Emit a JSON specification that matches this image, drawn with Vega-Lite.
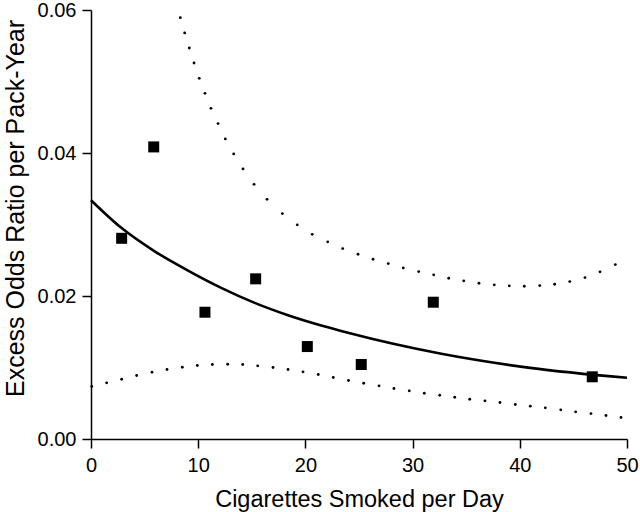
{
  "$schema": "https://vega.github.io/schema/vega-lite/v6.json",
  "autosize": "none",
  "width": 536,
  "height": 429,
  "padding": {"left": 91, "top": 10, "right": 13, "bottom": 73},
  "background": "white",
  "config": {
    "view": {"stroke": null},
    "font": "Liberation Sans",
    "axis": {
      "grid": false,
      "domainColor": "black",
      "domainWidth": 1.5,
      "tickColor": "black",
      "tickWidth": 1.5,
      "tickSize": 9,
      "labelColor": "black",
      "labelFont": "Liberation Sans",
      "labelFontSize": 20,
      "labelFlush": false,
      "labelOverlap": false,
      "titleColor": "black",
      "titleFont": "Liberation Sans",
      "titleFontWeight": "normal"
    }
  },
  "data": {
    "values": [
      {"series": "obs", "x": 2.86, "y": 0.02807},
      {"series": "obs", "x": 5.85, "y": 0.04085},
      {"series": "obs", "x": 10.63, "y": 0.01773},
      {"series": "obs", "x": 15.36, "y": 0.0224},
      {"series": "obs", "x": 20.18, "y": 0.01293},
      {"series": "obs", "x": 25.21, "y": 0.01042},
      {"series": "obs", "x": 31.93, "y": 0.01913},
      {"series": "obs", "x": 46.76, "y": 0.0087},

      {"series": "fit", "x": 0, "y": 0.0334},
      {"series": "fit", "x": 2.83, "y": 0.02953},
      {"series": "fit", "x": 5.94, "y": 0.02625},
      {"series": "fit", "x": 9.05, "y": 0.02356},
      {"series": "fit", "x": 12.15, "y": 0.02114},
      {"series": "fit", "x": 15.27, "y": 0.01904},
      {"series": "fit", "x": 18.38, "y": 0.01731},
      {"series": "fit", "x": 21.48, "y": 0.01587},
      {"series": "fit", "x": 23.97, "y": 0.01485},
      {"series": "fit", "x": 32.56, "y": 0.01195},
      {"series": "fit", "x": 40.95, "y": 0.00995},
      {"series": "fit", "x": 50, "y": 0.00856},

      {"series": "upper", "x": 8.33, "y": 0.05893},
      {"series": "upper", "x": 8.74, "y": 0.05679},
      {"series": "upper", "x": 9.17, "y": 0.05469},
      {"series": "upper", "x": 9.61, "y": 0.05259},
      {"series": "upper", "x": 10.10, "y": 0.05044},
      {"series": "upper", "x": 10.63, "y": 0.04834},
      {"series": "upper", "x": 11.19, "y": 0.04625},
      {"series": "upper", "x": 11.85, "y": 0.04411},
      {"series": "upper", "x": 12.53, "y": 0.04197},
      {"series": "upper", "x": 13.31, "y": 0.03987},
      {"series": "upper", "x": 14.18, "y": 0.03777},
      {"series": "upper", "x": 15.21, "y": 0.03562},
      {"series": "upper", "x": 16.42, "y": 0.03352},
      {"series": "upper", "x": 17.85, "y": 0.03153},
      {"series": "upper", "x": 19.24, "y": 0.02995},
      {"series": "upper", "x": 20.64, "y": 0.02863},
      {"series": "upper", "x": 22.08, "y": 0.02757},
      {"series": "upper", "x": 23.48, "y": 0.02663},
      {"series": "upper", "x": 24.91, "y": 0.02584},
      {"series": "upper", "x": 26.31, "y": 0.02514},
      {"series": "upper", "x": 27.73, "y": 0.02454},
      {"series": "upper", "x": 29.13, "y": 0.02393},
      {"series": "upper", "x": 30.57, "y": 0.02342},
      {"series": "upper", "x": 31.97, "y": 0.02296},
      {"series": "upper", "x": 33.37, "y": 0.02248},
      {"series": "upper", "x": 34.77, "y": 0.02212},
      {"series": "upper", "x": 36.19, "y": 0.02178},
      {"series": "upper", "x": 37.62, "y": 0.02156},
      {"series": "upper", "x": 39.02, "y": 0.02142},
      {"series": "upper", "x": 40.42, "y": 0.02136},
      {"series": "upper", "x": 41.86, "y": 0.02146},
      {"series": "upper", "x": 43.25, "y": 0.02164},
      {"series": "upper", "x": 44.66, "y": 0.02202},
      {"series": "upper", "x": 46.08, "y": 0.02258},
      {"series": "upper", "x": 47.48, "y": 0.02338},
      {"series": "upper", "x": 48.91, "y": 0.0244},

      {"series": "lower", "x": 0.07, "y": 0.00734},
      {"series": "lower", "x": 1.46, "y": 0.00786},
      {"series": "lower", "x": 2.86, "y": 0.00836},
      {"series": "lower", "x": 4.26, "y": 0.00888},
      {"series": "lower", "x": 5.69, "y": 0.00934},
      {"series": "lower", "x": 7.09, "y": 0.00972},
      {"series": "lower", "x": 8.52, "y": 0.01004},
      {"series": "lower", "x": 9.92, "y": 0.01028},
      {"series": "lower", "x": 11.32, "y": 0.01042},
      {"series": "lower", "x": 12.75, "y": 0.01046},
      {"series": "lower", "x": 14.15, "y": 0.01042},
      {"series": "lower", "x": 15.55, "y": 0.01023},
      {"series": "lower", "x": 16.98, "y": 0.01},
      {"series": "lower", "x": 18.38, "y": 0.00972},
      {"series": "lower", "x": 19.78, "y": 0.00939},
      {"series": "lower", "x": 21.2, "y": 0.00902},
      {"series": "lower", "x": 22.6, "y": 0.0086},
      {"series": "lower", "x": 24.02, "y": 0.00818},
      {"series": "lower", "x": 25.44, "y": 0.0078},
      {"series": "lower", "x": 26.87, "y": 0.00744},
      {"series": "lower", "x": 28.26, "y": 0.00706},
      {"series": "lower", "x": 29.69, "y": 0.00674},
      {"series": "lower", "x": 31.09, "y": 0.0064},
      {"series": "lower", "x": 32.53, "y": 0.00612},
      {"series": "lower", "x": 33.93, "y": 0.00584},
      {"series": "lower", "x": 35.33, "y": 0.00556},
      {"series": "lower", "x": 36.75, "y": 0.00534},
      {"series": "lower", "x": 38.15, "y": 0.0051},
      {"series": "lower", "x": 39.58, "y": 0.00482},
      {"series": "lower", "x": 40.98, "y": 0.00459},
      {"series": "lower", "x": 42.38, "y": 0.00436},
      {"series": "lower", "x": 43.82, "y": 0.00408},
      {"series": "lower", "x": 45.21, "y": 0.0038},
      {"series": "lower", "x": 46.64, "y": 0.00356},
      {"series": "lower", "x": 48.04, "y": 0.00329},
      {"series": "lower", "x": 49.44, "y": 0.00301}
    ]
  },
  "encoding": {
    "x": {
      "field": "x",
      "type": "quantitative",
      "scale": {"domain": [0, 50], "nice": false, "zero": false},
      "axis": {
        "values": [0, 10, 20, 30, 40, 50],
        "title": "Cigarettes Smoked per Day",
        "titleFontSize": 23.5,
        "labelPadding": 7,
        "titleY": 67,
        "titleBaseline": "alphabetic"
      }
    },
    "y": {
      "field": "y",
      "type": "quantitative",
      "scale": {"domain": [0, 0.06], "nice": false},
      "axis": {
        "values": [0, 0.02, 0.04, 0.06],
        "format": ".2f",
        "title": "Excess Odds Ratio per Pack-Year",
        "titleFontSize": 25,
        "labelPadding": 6,
        "titleX": -76,
        "titleY": 198,
        "titleBaseline": "middle"
      }
    }
  },
  "layer": [
    {
      "transform": [{"filter": "datum.series === 'fit'"}],
      "mark": {"type": "line", "color": "black", "strokeWidth": 2.6, "interpolate": "monotone"}
    },
    {
      "transform": [{"filter": "datum.series === 'upper' || datum.series === 'lower'"}],
      "mark": {"type": "point", "shape": "circle", "filled": true, "color": "black", "opacity": 1, "size": 8}
    },
    {
      "transform": [{"filter": "datum.series === 'obs'"}],
      "mark": {"type": "point", "shape": "square", "filled": true, "color": "black", "opacity": 1, "size": 121}
    }
  ]
}
